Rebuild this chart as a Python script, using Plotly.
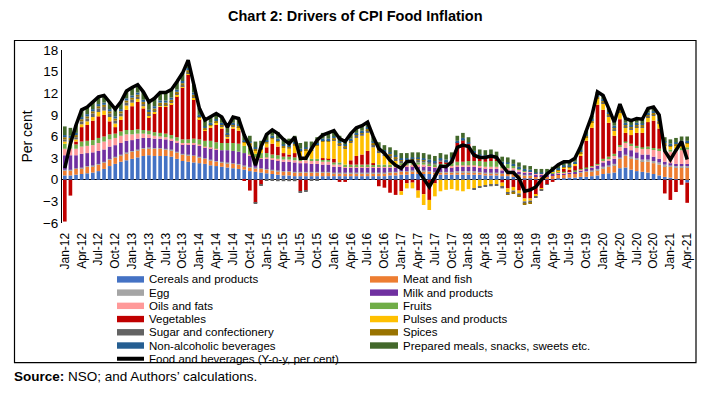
import plotly.graph_objects as go

MONTHS = ["Jan", "Feb", "Mar", "Apr", "May", "Jun", "Jul", "Aug", "Sep", "Oct", "Nov", "Dec"]
YEARS = ["12", "13", "14", "15", "16", "17", "18", "19", "20", "21"]
N_MONTHS = 112
categories = [f"{m}-{y}" for y in YEARS for m in MONTHS][:N_MONTHS]
tick_labels = [c for c in categories if c[:3] in ("Jan", "Apr", "Jul", "Oct")]

cereals = [0.6,0.6,0.7,0.8,0.9,1.0,1.2,1.5,1.9,2.2,2.5,2.7,
           2.9,3.1,3.3,3.4,3.3,3.3,3.3,3.2,2.9,2.6,2.5,2.4,
           2.3,2.2,2.0,1.9,1.8,1.7,1.6,1.5,1.4,1.2,1.1,1.0,
           0.9,0.8,0.7,0.6,0.6,0.5,0.5,0.5,0.5,0.5,0.5,0.5,
           0.5,0.5,0.5,0.5,0.5,0.5,0.5,0.5,0.5,0.5,0.6,0.6,
           0.7,0.7,0.8,0.8,0.8,0.8,0.7,0.7,0.7,0.7,0.7,0.7,
           0.7,0.7,0.7,0.6,0.6,0.6,0.5,0.5,0.4,0.3,0.2,0.2,
           0.1,0.1,0.1,0.1,0.2,0.2,0.3,0.3,0.4,0.4,0.5,0.6,
           0.8,0.9,1.0,1.6,1.7,1.4,1.2,1.1,1.0,0.8,0.6,0.4,
           0.3,0.1,0.0,-0.4]
meat = [0.7,0.7,0.8,0.8,0.9,0.9,0.9,0.9,0.9,0.9,0.9,1.0,
        1.0,1.0,1.0,1.0,1.0,1.0,0.9,0.9,0.9,0.9,0.9,0.9,
        0.8,0.7,0.7,0.6,0.6,0.6,0.6,0.6,0.5,0.5,0.5,0.5,
        0.5,0.5,0.5,0.5,0.5,0.5,0.5,0.5,0.5,0.5,0.5,0.5,
        0.4,0.4,0.4,0.4,0.4,0.4,0.4,0.4,0.4,0.4,0.4,0.4,
        0.4,0.4,0.4,0.4,0.4,0.3,0.3,0.3,0.3,0.3,0.3,0.3,
        0.3,0.3,0.3,0.3,0.3,0.3,0.3,0.3,0.4,0.4,0.4,0.4,
        0.4,0.4,0.4,0.5,0.5,0.5,0.5,0.6,0.6,0.7,0.7,0.7,
        0.8,0.9,1.0,1.3,1.6,1.6,1.6,1.5,1.5,1.5,1.5,1.5,
        1.5,1.6,1.7,1.7]
egg = [0.1,0.1,0.1,0.1,0.1,0.1,0.1,0.1,0.1,0.1,0.1,0.1,
       0.1,0.1,0.1,0.1,0.1,0.1,0.1,0.1,0.1,0.1,0.1,0.1,
       0.1,0.1,0.1,0.1,0.1,0.1,0.1,0.1,0.1,0.1,0.1,0.1,
       0.1,0.1,0.1,0.1,0.1,0.1,0.1,0.1,0.1,0.1,0.1,0.1,
       0.1,0.1,0.1,0.1,0.1,0.1,0.1,0.1,0.1,0.1,0.1,0.1,
       0.1,0.1,0.1,0.1,0.1,0.1,0.1,0.1,0.1,0.1,0.2,0.2,
       0.2,0.2,0.1,0.1,0.1,0.1,0.1,0.1,0.1,0.1,0.1,0.1,
       0.0,0.0,0.0,0.0,0.0,0.0,0.0,0.0,0.1,0.1,0.1,0.2,
       0.2,0.2,0.2,0.2,0.2,0.2,0.2,0.2,0.3,0.3,0.3,0.2,
       0.2,0.2,0.2,0.2]
milk = [2.0,2.0,1.8,1.9,1.8,1.8,1.8,1.7,1.7,1.6,1.6,1.6,
        1.5,1.5,1.4,1.3,1.3,1.3,1.3,1.3,1.3,1.3,1.4,1.5,
        1.5,1.5,1.6,1.6,1.6,1.7,1.7,1.7,1.7,1.6,1.3,1.3,
        1.4,1.4,1.4,1.3,1.3,1.3,1.2,1.2,1.1,1.1,1.0,1.0,
        0.8,0.8,0.7,0.7,0.7,0.7,0.7,0.7,0.7,0.7,0.6,0.6,
        0.6,0.6,0.6,0.6,0.6,0.6,0.6,0.6,0.6,0.6,0.6,0.6,
        0.6,0.6,0.6,0.6,0.5,0.5,0.4,0.4,0.4,0.3,0.3,0.3,
        0.2,0.2,0.2,0.2,0.2,0.2,0.2,0.2,0.2,0.3,0.4,0.5,
        0.6,0.6,0.7,0.9,0.9,0.9,0.8,0.7,0.7,0.6,0.5,0.4,
        0.3,0.3,0.3,0.3]
oils = [0.9,0.9,0.9,1.0,1.0,1.0,1.1,1.1,1.0,1.0,1.0,0.9,
        0.8,0.7,0.6,0.5,0.4,0.3,0.3,0.2,0.2,0.2,0.2,0.2,
        0.2,0.1,0.1,0.1,0.0,0.0,0.0,0.0,0.0,0.1,0.1,0.1,
        0.2,0.2,0.2,0.3,0.3,0.3,0.3,0.4,0.4,0.4,0.4,0.4,
        0.3,0.3,0.2,0.2,0.2,0.2,0.2,0.2,0.2,0.2,0.2,0.2,
        0.2,0.2,0.2,0.2,0.2,0.2,0.2,0.2,0.2,0.2,0.2,0.2,
        0.2,0.2,0.2,0.2,0.3,0.3,0.3,0.3,0.3,0.3,0.2,0.2,
        0.1,0.1,0.1,0.1,0.1,0.1,0.1,0.1,0.1,0.1,0.1,0.1,
        0.3,0.4,0.5,0.6,0.7,0.7,0.7,0.8,0.9,1.0,1.2,1.4,
        1.6,1.8,1.9,2.0]
fruits = [0.7,0.6,0.6,0.7,0.7,0.7,0.7,0.7,0.7,0.6,0.6,0.6,
          0.6,0.6,0.5,0.5,0.5,0.5,0.5,0.5,0.5,0.5,0.5,0.6,
          0.7,0.8,0.9,0.9,1.0,1.0,1.1,1.1,1.0,0.9,0.5,0.7,
          0.6,0.5,0.5,0.4,0.4,0.4,0.3,0.3,0.3,0.3,0.3,0.3,
          0.3,0.3,0.2,0.2,0.2,0.2,0.2,0.2,0.2,0.2,0.2,0.2,
          0.3,0.3,0.3,0.3,0.3,0.2,0.2,0.3,0.3,0.4,0.5,0.5,
          0.6,0.6,0.7,0.7,0.8,0.8,0.7,0.6,0.4,0.2,0.1,0.0,
          0.0,0.0,0.0,0.1,0.1,0.1,0.1,0.1,0.1,0.1,0.1,0.1,
          0.2,0.2,0.2,0.2,0.2,0.2,0.2,0.2,0.2,0.2,0.2,0.3,
          0.3,0.3,0.3,0.3]
vegetables = [-5.8,-2.2,0.4,2.0,2.2,2.7,3.0,3.0,1.8,0.9,1.6,2.8,
              3.3,3.8,3.0,1.9,2.6,3.6,3.7,4.3,5.7,7.2,9.0,5.5,
              2.8,1.4,1.8,2.4,2.0,0.6,2.0,1.8,-0.1,-1.5,-3.2,-0.7,
              0.8,1.5,1.2,0.5,0.3,0.6,-1.6,-1.5,0.0,0.0,0.2,0.1,
              0.5,-0.3,-0.3,0.6,1.2,1.4,1.9,0.2,-0.9,-1.1,-1.8,-2.1,
              -1.6,-0.5,-0.4,-1.5,-2.0,-2.8,-0.5,0.3,0.2,0.4,2.6,3.0,
              2.4,1.2,0.7,0.7,0.7,0.4,-0.4,-1.2,-1.0,-1.5,-2.6,-2.6,
              -2.1,-1.2,-0.6,-0.3,0.1,0.4,0.2,0.6,1.8,3.7,5.3,8.2,
              6.8,4.7,2.5,3.6,1.2,1.2,1.8,2.0,3.4,3.8,2.8,-1.9,
              -2.8,-1.7,-0.7,-2.8]
pulses = [0.3,0.3,0.3,0.4,0.5,0.5,0.6,0.6,0.6,0.5,0.5,0.6,
          0.5,0.4,0.3,0.2,0.2,0.2,0.2,0.2,0.2,0.2,0.2,0.2,
          0.2,0.2,0.3,0.3,0.3,0.3,0.3,0.4,0.4,0.5,0.5,0.5,
          0.5,0.6,0.6,0.7,0.8,1.0,1.0,1.1,1.2,1.8,2.3,2.4,
          2.6,2.3,2.2,2.4,2.5,2.6,2.5,2.2,1.6,1.2,0.9,0.5,
          -0.5,-0.7,-0.8,-1.0,-1.5,-1.4,-1.8,-1.6,-1.4,-1.3,-1.5,-1.6,
          -1.3,-1.2,-1.0,-0.8,-0.7,-0.6,-0.6,-0.6,-0.5,-0.4,-0.4,-0.3,
          -0.2,-0.1,0.0,0.1,0.1,0.2,0.3,0.3,0.4,0.5,0.8,0.8,
          0.9,0.9,0.8,0.9,0.8,0.8,0.8,0.7,0.7,0.7,0.7,0.5,
          0.4,0.5,0.6,0.5]
sugar = [0.3,0.3,0.3,0.4,0.4,0.5,0.5,0.5,0.5,0.4,0.4,0.4,
         0.4,0.3,0.3,0.2,0.2,0.1,0.1,0.1,0.1,0.1,0.1,0.1,
         0.0,0.0,0.0,0.1,0.1,0.1,0.1,0.1,0.0,0.0,-0.1,-0.1,
         -0.1,-0.1,-0.2,-0.2,-0.2,-0.2,-0.2,-0.2,-0.1,-0.1,0.0,0.0,
         0.1,0.2,0.2,0.2,0.3,0.3,0.4,0.4,0.4,0.4,0.4,0.4,
         0.4,0.4,0.4,0.4,0.3,0.3,0.3,0.3,0.2,0.2,0.1,0.1,
         0.0,-0.1,-0.1,-0.2,-0.2,-0.2,-0.2,-0.2,-0.3,-0.3,-0.3,-0.3,
         -0.2,-0.2,-0.1,0.0,0.0,0.0,0.0,0.0,0.0,0.0,0.0,0.0,
         0.1,0.1,0.1,0.1,0.1,0.1,0.1,0.1,0.1,0.1,0.1,0.1,
         0.0,0.0,0.0,0.0]
spices = [0.3,0.3,0.3,0.3,0.3,0.3,0.3,0.3,0.3,0.3,0.3,0.3,
          0.3,0.3,0.3,0.3,0.3,0.3,0.3,0.3,0.3,0.3,0.3,0.3,
          0.2,0.2,0.2,0.2,0.2,0.2,0.2,0.2,0.2,0.2,0.2,0.2,
          0.3,0.3,0.3,0.3,0.3,0.3,0.2,0.2,0.2,0.2,0.2,0.2,
          0.2,0.2,0.2,0.2,0.2,0.2,0.2,0.2,0.2,0.2,0.2,0.2,
          0.1,0.1,0.1,0.1,0.1,0.1,0.0,0.0,0.0,0.0,0.0,0.0,
          0.0,0.0,0.0,0.0,0.0,0.0,0.0,-0.1,-0.1,-0.1,-0.1,-0.1,
          0.0,0.0,0.0,0.0,0.1,0.1,0.1,0.1,0.2,0.2,0.2,0.3,
          0.3,0.3,0.3,0.3,0.3,0.3,0.3,0.3,0.3,0.3,0.3,0.3,
          0.2,0.2,0.2,0.2]
beverages = [0.3,0.3,0.3,0.3,0.3,0.3,0.3,0.3,0.3,0.3,0.3,0.3,
             0.3,0.3,0.3,0.3,0.3,0.3,0.3,0.3,0.3,0.3,0.3,0.3,
             0.2,0.2,0.2,0.2,0.2,0.2,0.2,0.2,0.2,0.2,0.2,0.2,
             0.2,0.2,0.2,0.2,0.2,0.2,0.2,0.2,0.2,0.2,0.2,0.2,
             0.2,0.2,0.2,0.2,0.2,0.2,0.2,0.2,0.2,0.2,0.2,0.2,
             0.2,0.2,0.2,0.2,0.2,0.2,0.2,0.2,0.2,0.2,0.2,0.2,
             0.2,0.2,0.2,0.2,0.2,0.2,0.2,0.2,0.2,0.2,0.2,0.2,
             0.2,0.2,0.2,0.2,0.2,0.2,0.2,0.2,0.2,0.2,0.2,0.2,
             0.2,0.2,0.2,0.2,0.2,0.2,0.2,0.2,0.2,0.2,0.2,0.2,
             0.2,0.2,0.2,0.2]
prepared = [1.2,1.1,1.1,1.0,1.0,1.0,1.0,1.0,1.0,1.0,1.0,1.0,
            1.1,1.1,1.1,1.1,1.1,1.1,1.1,1.1,1.1,1.1,1.1,1.1,
            0.9,0.9,0.8,0.8,0.8,0.8,0.8,0.8,0.8,0.8,0.8,0.8,
            0.9,0.9,0.9,0.9,0.9,0.9,0.8,0.8,0.8,0.8,0.8,0.8,
            0.8,0.8,0.7,0.7,0.7,0.7,0.7,0.7,0.7,0.7,0.7,0.7,
            0.7,0.7,0.7,0.7,0.7,0.7,0.7,0.7,0.7,0.7,0.7,0.7,
            0.7,0.7,0.7,0.7,0.7,0.7,0.7,0.7,0.6,0.6,0.5,0.5,
            0.5,0.5,0.5,0.5,0.5,0.5,0.5,0.5,0.5,0.5,0.5,0.5,
            0.5,0.5,0.5,0.6,0.6,0.6,0.6,0.6,0.6,0.6,0.6,0.6,
            0.6,0.6,0.6,0.6]
food_bev_yoy = [1.6,5.0,7.6,9.7,10.1,10.8,11.5,11.7,10.8,9.8,10.8,12.3,
                12.8,13.2,12.2,10.8,11.3,12.1,12.1,12.5,13.6,14.8,16.6,13.2,
                9.9,8.3,8.7,9.2,8.7,7.3,8.7,8.5,6.2,4.6,2.0,4.6,
                6.3,6.9,6.4,5.6,5.0,5.9,3.0,3.0,4.3,5.5,6.2,6.5,
                6.8,5.7,5.3,6.4,7.2,7.5,8.0,6.0,4.3,3.7,2.7,2.0,
                1.6,2.5,2.6,1.3,0.2,-1.0,0.4,1.9,1.8,2.5,4.5,4.8,
                4.6,3.4,3.1,3.1,3.3,3.1,2.0,1.0,1.0,0.2,-1.6,-1.4,
                -1.0,0.0,0.8,1.5,2.1,2.5,2.5,3.0,4.6,6.8,8.9,12.2,
                11.7,9.9,8.0,10.5,8.5,8.2,8.5,8.4,9.9,10.1,9.0,4.0,
                2.8,4.1,5.3,2.8]

series_names = ["Cereals and products", "Meat and fish", "Egg", "Milk and products",
                "Oils and fats", "Fruits", "Vegetables", "Pulses and products",
                "Sugar and confectionery", "Spices", "Non-alcoholic beverages",
                "Prepared meals, snacks, sweets etc."]
series_values = [cereals, meat, egg, milk, oils, fruits, vegetables, pulses,
                 sugar, spices, beverages, prepared]
series_colors = ["#4472C4", "#ED7D31", "#A5A5A5", "#7030A0", "#FF9999", "#70AD47",
                 "#C00000", "#FFC000", "#636363", "#997300", "#255E91", "#43682B"]
line_name = "Food and beverages (Y-o-y, per cent)"

FONT = "Arial, Liberation Sans, sans-serif"
PAGE_W, PAGE_H = 707, 397
OFF = 8  # default page margin of the html body
W, H = PAGE_W - OFF, PAGE_H - OFF
# plot area in page pixel coordinates
L, R, T, B = 62, 690, 50, 222.7


def px_x(px):
    return (px - L) / (R - L)


def px_y(py):
    return (B - py) / (B - T)


fig = go.Figure()
for name, vals, col in zip(series_names, series_values, series_colors):
    fig.add_trace(go.Bar(x=categories, y=vals, name=name, marker_color=col,
                         marker_line_width=0, showlegend=False))
fig.add_trace(go.Scatter(x=categories, y=food_bev_yoy, name=line_name, mode="lines",
                         line=dict(color="black", width=3.5), showlegend=False))

shapes = []
annotations = []
# outer frame
shapes.append(dict(type="rect", xref="paper", yref="paper",
                   x0=px_x(14.5), x1=px_x(696), y0=px_y(362), y1=px_y(40.5),
                   line=dict(color="black", width=1.2), fillcolor="rgba(0,0,0,0)", layer="below"))

# legend
row_y = [279, 292.2, 305.4, 318.6, 331.8, 345, 358.2]
col_sw = [(117, 144), (370, 398)]
col_tx = [148, 402]
LEG_FONT = dict(family=FONT, size=11.5, color="black")
for i, (name, col) in enumerate(zip(series_names, series_colors)):
    r, c = divmod(i, 2)
    y = row_y[r]
    shapes.append(dict(type="rect", xref="paper", yref="paper",
                       x0=px_x(col_sw[c][0]), x1=px_x(col_sw[c][1]),
                       y0=px_y(y + 3.2), y1=px_y(y - 3.2),
                       line=dict(width=0), fillcolor=col))
    annotations.append(dict(text=name, xref="paper", yref="paper", x=px_x(col_tx[c]),
                            y=px_y(y), xanchor="left", yanchor="middle", showarrow=False,
                            borderpad=0, font=LEG_FONT))
shapes.append(dict(type="line", xref="paper", yref="paper",
                   x0=px_x(117), x1=px_x(144), y0=px_y(row_y[6]), y1=px_y(row_y[6]),
                   line=dict(color="black", width=4)))
annotations.append(dict(text=line_name, xref="paper", yref="paper", x=px_x(col_tx[0]),
                        y=px_y(row_y[6]), xanchor="left", yanchor="middle", showarrow=False,
                        borderpad=0, font=LEG_FONT))

# title and source
annotations.append(dict(text="<b>Chart 2: Drivers of CPI Food Inflation</b>", xref="paper",
                        yref="paper", x=px_x(355), y=px_y(16), xanchor="center",
                        yanchor="middle", showarrow=False,
                        font=dict(family=FONT, size=14.5, color="black")))
annotations.append(dict(text="<b>Source:</b> NSO; and Authors’ calculations.", xref="paper",
                        yref="paper", x=px_x(12), y=px_y(376), xanchor="left",
                        yanchor="middle", showarrow=False,
                        font=dict(family=FONT, size=13.5, color="black")))

fig.update_layout(
    width=W, height=H,
    margin=dict(l=L - OFF, r=PAGE_W - R, t=T - OFF, b=PAGE_H - B, pad=0),
    barmode="relative", bargap=0.35,
    plot_bgcolor="white", paper_bgcolor="white",
    font=dict(family=FONT, color="black"),
    shapes=shapes, annotations=annotations,
    showlegend=False,
    xaxis=dict(type="category", categoryorder="array", categoryarray=categories,
               tickmode="array", tickvals=tick_labels, ticktext=tick_labels,
               tickangle=-90, tickfont=dict(family=FONT, size=12, color="black"),
               showgrid=False, showline=False, ticks="outside", ticklen=4,
               tickcolor="rgba(0,0,0,0)", zeroline=False,
               range=[-0.5, N_MONTHS - 0.5]),
    yaxis=dict(range=[-6, 18], tickmode="array", tickvals=[-6, -3, 0, 3, 6, 9, 12, 15, 18],
               tickfont=dict(family=FONT, size=13.5, color="black"),
               showgrid=False, showline=True, linecolor="black", linewidth=1,
               ticks="", zeroline=True, zerolinecolor="black", zerolinewidth=1.2,
               title=dict(text="Per cent", font=dict(family=FONT, size=14, color="black"),
                          standoff=6)),
)

fig.write_html("out.html")
